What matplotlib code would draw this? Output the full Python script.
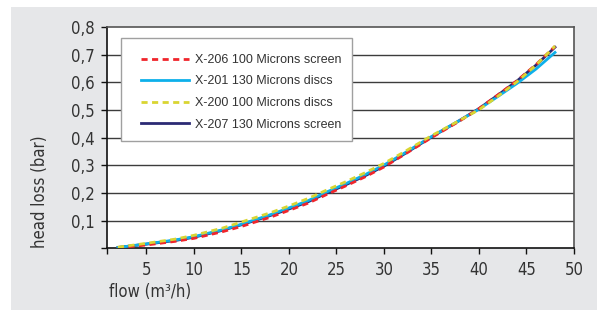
import matplotlib
matplotlib.use("Agg")
import matplotlib.pyplot as plt
from matplotlib.patches import Rectangle

flow = [2, 5, 8, 10, 13, 15, 18, 20, 22, 24, 26, 28, 30, 32, 35, 38, 40, 42, 44, 46, 48]
x206 = [0.002, 0.012, 0.025, 0.036, 0.060, 0.079, 0.112, 0.137, 0.163, 0.195, 0.226, 0.258,
        0.294, 0.336, 0.400, 0.461, 0.505, 0.555, 0.606, 0.664, 0.730]
x201 = [0.003, 0.016, 0.030, 0.042, 0.067, 0.087, 0.121, 0.146, 0.172, 0.204, 0.234, 0.266,
        0.301, 0.341, 0.404, 0.463, 0.503, 0.549, 0.596, 0.648, 0.708]
x200 = [0.004, 0.018, 0.033, 0.047, 0.073, 0.095, 0.128, 0.153, 0.180, 0.211, 0.241, 0.273,
        0.307, 0.346, 0.407, 0.463, 0.501, 0.550, 0.602, 0.662, 0.731]
x207 = [0.003, 0.015, 0.028, 0.040, 0.065, 0.085, 0.118, 0.142, 0.168, 0.200, 0.230, 0.262,
        0.297, 0.338, 0.402, 0.463, 0.505, 0.554, 0.605, 0.662, 0.727]
labels = ["X-206 100 Microns screen", "X-201 130 Microns discs",
          "X-200 100 Microns discs", "X-207 130 Microns screen"]
xticks = [5, 10, 15, 20, 25, 30, 35, 40, 45, 50]
yticks = [0.1, 0.2, 0.3, 0.4, 0.5, 0.6, 0.7, 0.8]
ytick_labels = ["0,1", "0,2", "0,3", "0,4", "0,5", "0,6", "0,7", "0,8"]

NARROW = dict(family="DejaVu Sans", stretch="condensed")

fig = plt.figure(figsize=(5.97, 3.11), dpi=100)
fig.patch.set_facecolor("white")
bg = Rectangle((11/597, 1/311), 1 - 11/597, 303/311, transform=fig.transFigure,
               facecolor="#e6e7e9", edgecolor="none", zorder=-10)
fig.patches.append(bg)

ax = fig.add_axes([107/597, (311-248.3)/311, 467/597, 221.3/311])
ax.set_facecolor("white")
xmin = 0.85
ax.set_xlim(xmin, 50)
ax.set_ylim(0, 0.8)

for y in yticks[:-1]:
    ax.axhline(y, color="#3c3c3c", lw=1.0, zorder=1)

l207, = ax.plot(flow, x207, color="#2b2a74", lw=2.0, zorder=3, label=labels[3])
l201, = ax.plot(flow, x201, color="#0db0ea", lw=2.0, zorder=3.5, label=labels[1])
l206, = ax.plot(flow, x206, color="#f0252b", lw=2.0, ls=(0, (2.2, 1.6)), zorder=4, label=labels[0])
l200, = ax.plot(flow, x200, color="#d9d532", lw=2.0, ls=(0, (2.2, 1.6)), zorder=4.2, label=labels[2])

for s in ["left", "bottom"]:
    ax.spines[s].set_color("#111111")
    ax.spines[s].set_linewidth(1.2)
for s in ["top", "right"]:
    ax.spines[s].set_color("#555555")
    ax.spines[s].set_linewidth(1.2)

ax.set_xticks([xmin] + xticks)
ax.set_xticklabels([""] + [str(v) for v in xticks])
ax.set_yticks([0] + yticks)
ax.set_yticklabels([""] + ytick_labels)
ax.tick_params(axis="both", direction="out", length=4, width=1.0, color="#111111",
               labelsize=12, labelcolor="#333333", pad=5)
for t in ax.get_xticklabels() + ax.get_yticklabels():
    t.set_family(NARROW["family"])
    t.set_stretch(NARROW["stretch"])

# legend frame
ax.add_patch(Rectangle(((121-107)/467, (248.3-141)/221.3), 231/467, 103/221.3,
                       transform=ax.transAxes, facecolor="white", edgecolor="#a0a0a0",
                       lw=1.0, zorder=5))
leg = ax.legend(handles=[l206, l201, l200, l207], loc="upper left",
                bbox_to_anchor=((141-107)/467, (248.3-54)/221.3),
                frameon=False, borderpad=0, borderaxespad=0, handlelength=3.85,
                handletextpad=0.5, labelspacing=0.76,
                prop=dict(family="Liberation Sans", size=9))
leg.set_zorder(6)
for t in leg.get_texts():
    t.set_color("#333333")

fig.text(40/597, (311-192)/311, "head loss (bar)", rotation=90, ha="center", va="center",
         fontsize=12, color="#333333", **NARROW)
fig.text(109/597, (311-292)/311, "flow (m³/h)", ha="left", va="center",
         fontsize=12, color="#333333", **NARROW)

fig.savefig("out.png", dpi=100, facecolor=fig.get_facecolor())
